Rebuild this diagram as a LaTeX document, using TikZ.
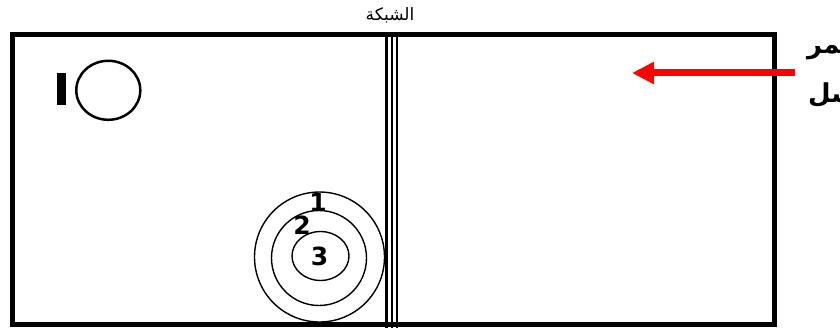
\documentclass[tikz,border=0pt]{standalone}
\usepackage{fontspec}
\setmainfont{Liberation Sans}
\newfontfamily\arabicfont[Script=Arabic]{DejaVu Sans}
\newfontfamily\digitfont{DejaVu Sans}
\TeXXeTstate=1
\usetikzlibrary{arrows.meta}
\tikzset{
  court/.style={line width=5pt},
  netline/.style={line width=2.4pt},
  ring/.style={line width=1.4pt},
  digit/.style={font=\fontsize{25}{25}\selectfont\digitfont\bfseries, inner sep=0pt},
  sender/.style={anchor=west, font=\fontsize{26}{26}\selectfont\arabicfont\bfseries, inner sep=0pt},
  redarrow/.style={red, line width=7pt, -{Triangle[width=21pt,length=22pt]}},
}
\begin{document}
\begin{tikzpicture}[x=1pt,y=-1pt]
\useasboundingbox (0,0) rectangle (840,331);
\clip (0,0) rectangle (840,331);
% court
\draw[court] (12.5,35) rectangle (774,324.5);
% net
\draw[netline] (386.5,32.5) -- (386.5,328);
\draw[netline] (392,32.5) -- (392,328);
\draw[netline] (397.2,32.5) -- (397.2,328);
\node[font=\fontsize{17}{17}\selectfont\arabicfont] (netlabel) at (390,15) {\beginR الشبكة\endR};
% player marker
\fill (57,73) rectangle (66,105);
\draw[line width=2.5pt] (108.3,90.3) ellipse [x radius=32, y radius=29.5];
% target circles
\draw[ring] (319.5,257) circle (65);
\draw[ring] (319,258) circle (47.5);
\draw[ring] (320.5,256) ellipse [x radius=28.5, y radius=24.5];
\node[digit] (d1) at (318,202) {1};
\node[digit] (d2) at (302,225) {2};
\node[digit] (d3) at (319.5,256) {3};
% arrow
\coordinate (arrS) at (795,73);
\coordinate (arrE) at (632,73);
\draw[redarrow] (arrS) -- (arrE);
% sender label (clipped at the edge, as in the reference)
\node[sender] (snd1) at (807,47) {\beginR المر\endR};
\node[sender] (snd2) at (808,95) {\beginR سل\endR};
\end{tikzpicture}
\end{document}
